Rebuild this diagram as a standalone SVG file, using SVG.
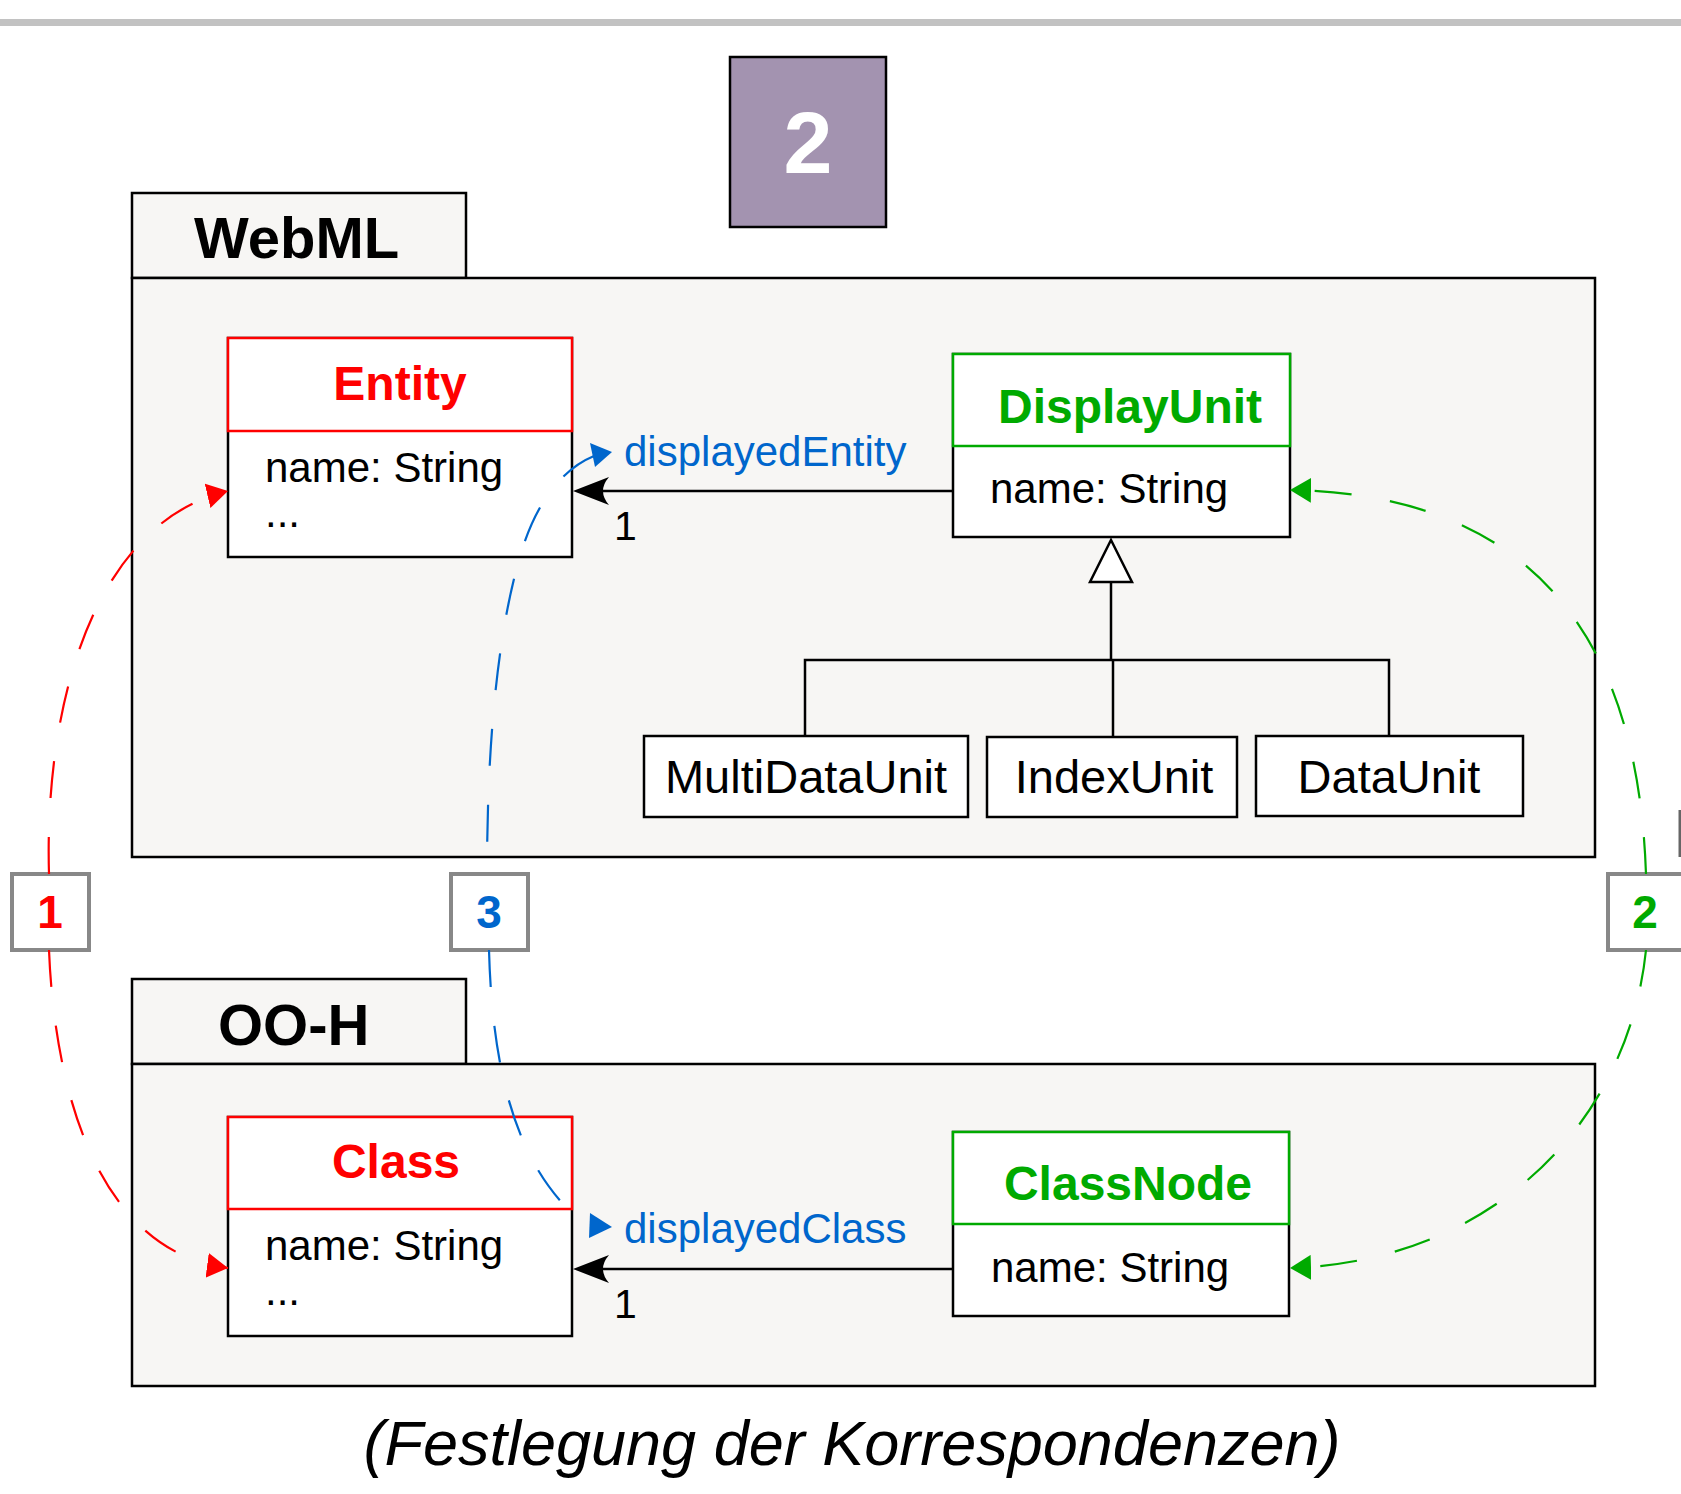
<svg xmlns="http://www.w3.org/2000/svg" width="1681" height="1494" viewBox="0 0 1681 1494">
  <style>
    text { font-family: "Liberation Sans", Arial, sans-serif; }
    .pkg { fill: #f7f6f4; stroke: #000; stroke-width: 2.5; }
    .box { fill: #fff; stroke: #000; stroke-width: 2.5; }
    .hdr-red { fill: #fff; stroke: #ff0000; stroke-width: 2.5; }
    .hdr-green { fill: #fff; stroke: #00aa00; stroke-width: 2.5; }
    .ttl { font-weight: bold; font-size: 58px; fill: #000; }
    .cls-red { font-weight: bold; font-size: 48px; fill: #ff0000; text-anchor: middle; }
    .cls-green { font-weight: bold; font-size: 48px; fill: #00aa00; text-anchor: middle; }
    .attr { font-size: 42px; fill: #000; }
    .unit { font-size: 47px; fill: #000; text-anchor: middle; }
    .role { font-size: 42px; fill: #0066cc; }
    .mult { font-size: 41px; fill: #000; }
    .tag { fill: #fff; stroke: #888; stroke-width: 4; }
    .tagtxt { font-weight: bold; font-size: 46px; text-anchor: middle; }
    .assoc { stroke: #000; stroke-width: 2.5; fill: none; }
    .corr { fill: none; stroke-width: 2.2; stroke-dasharray: 37 39; }
  </style>
  <defs>
    <marker id="mRed" viewBox="0 0 21 25" refX="21" refY="12.5" markerWidth="21" markerHeight="25" markerUnits="userSpaceOnUse" orient="auto">
      <path d="M0,0 L21,12.5 L0,25 Z" fill="#ff0000"/>
    </marker>
    <marker id="mGreen" viewBox="0 0 21 25" refX="21" refY="12.5" markerWidth="21" markerHeight="25" markerUnits="userSpaceOnUse" orient="auto">
      <path d="M0,0 L21,12.5 L0,25 Z" fill="#00aa00"/>
    </marker>
  </defs>

  <!-- top rule -->
  <rect x="0" y="19" width="1681" height="7" fill="#c2c2c2"/>

  <!-- step badge -->
  <g id="step">
    <rect x="730" y="57" width="156" height="170" fill="#a393b0" stroke="#000" stroke-width="2.5"/>
    <text x="808" y="173" font-size="88" font-weight="bold" fill="#fff" text-anchor="middle">2</text>
  </g>

  <!-- WebML package -->
  <g id="pkg-webml">
    <rect class="pkg" x="132" y="193" width="334" height="85"/>
    <rect class="pkg" x="132" y="278" width="1463" height="579"/>
    <text class="ttl" x="194" y="258">WebML</text>
  </g>

  <!-- OO-H package -->
  <g id="pkg-ooh">
    <rect class="pkg" x="132" y="979" width="334" height="85"/>
    <rect class="pkg" x="132" y="1064" width="1463" height="322"/>
    <text class="ttl" x="218" y="1045">OO-H</text>
  </g>

  <g id="entity">
    <rect class="box" x="228" y="338" width="344" height="219"/>
    <rect class="hdr-red" x="228" y="338" width="344" height="93"/>
    <text class="cls-red" x="400" y="400">Entity</text>
    <text class="attr" x="265" y="482">name: String</text>
    <text class="attr" x="265" y="527">...</text>
  </g>

  <g id="displayunit">
    <rect class="box" x="953" y="354" width="337" height="183"/>
    <rect class="hdr-green" x="953" y="354" width="337" height="92"/>
    <text class="cls-green" x="1130" y="423">DisplayUnit</text>
    <text class="attr" x="990" y="503">name: String</text>
  </g>

  <g id="multidataunit">
    <rect class="box" x="644" y="736" width="324" height="81"/>
    <text class="unit" x="806" y="793">MultiDataUnit</text>
  </g>
  <g id="indexunit">
    <rect class="box" x="987" y="737" width="250" height="80"/>
    <text class="unit" x="1114" y="793">IndexUnit</text>
  </g>
  <g id="dataunit">
    <rect class="box" x="1256" y="736" width="267" height="80"/>
    <text class="unit" x="1389" y="793">DataUnit</text>
  </g>

  <g id="class">
    <rect class="box" x="228" y="1117" width="344" height="219"/>
    <rect class="hdr-red" x="228" y="1117" width="344" height="92"/>
    <text class="cls-red" x="396" y="1178">Class</text>
    <text class="attr" x="265" y="1260">name: String</text>
    <text class="attr" x="265" y="1305">...</text>
  </g>

  <g id="classnode">
    <rect class="box" x="953" y="1132" width="336" height="184"/>
    <rect class="hdr-green" x="953" y="1132" width="336" height="92"/>
    <text class="cls-green" x="1128" y="1200">ClassNode</text>
    <text class="attr" x="991" y="1282">name: String</text>
  </g>

  <!-- correspondence tags -->
  <g id="tag1">
    <rect class="tag" x="12" y="874" width="77" height="76"/>
    <text class="tagtxt" x="50" y="928" fill="#ff0000">1</text>
  </g>
  <g id="tag3">
    <rect class="tag" x="451" y="874" width="77" height="76"/>
    <text class="tagtxt" x="489" y="928" fill="#0066cc">3</text>
  </g>
  <g id="tag2">
    <rect class="tag" x="1608" y="874" width="77" height="76"/>
    <text class="tagtxt" x="1645" y="928" fill="#00aa00">2</text>
  </g>
  <line x1="1680" y1="810" x2="1680" y2="857" stroke="#666" stroke-width="3"/>

  <!-- associations, generalization and correspondence links -->
  <g id="connectors">
    <line class="assoc" x1="953" y1="491" x2="600" y2="491"/>
    <path d="M573,491 L609,477 Q597,491 609,505 Z" fill="#000"/>
    <line class="assoc" x1="953" y1="1269" x2="600" y2="1269"/>
    <path d="M573,1269 L609,1255 Q597,1269 609,1283 Z" fill="#000"/>

    <line class="assoc" x1="1111" y1="582" x2="1111" y2="660"/>
    <polyline class="assoc" points="805,736 805,660 1389,660 1389,736"/>
    <line class="assoc" x1="1113" y1="660" x2="1113" y2="736"/>
    <path d="M1111,540 L1132,582 L1090,582 Z" fill="#fff" stroke="#000" stroke-width="2.5"/>

    <!-- correspondence 1 (red) -->
    <path class="corr" stroke="#ff0000" d="M49,874 C44,700 96,522 228,491" marker-end="url(#mRed)"/>
    <path class="corr" stroke="#ff0000" d="M49,950 C55,1100 102,1252 228,1268" marker-end="url(#mRed)"/>
    <!-- correspondence 3 (blue), drawn from the arrowhead outwards -->
    <path class="corr" stroke="#0066cc" d="M594,456 C560,470 536,505 522,550 C500,620 487,730 487,874"/>
    <path d="M590,443 L612,452 L595,467 Z" fill="#0066cc"/>
    <path class="corr" stroke="#0066cc" d="M489,950 C492,1060 512,1155 571,1212"/>
    <path d="M590,1213 L612,1227 L589,1238 Z" fill="#0066cc"/>
    <!-- correspondence 2 (green) -->
    <path class="corr" stroke="#00aa00" d="M1646,874 C1640,700 1580,495 1290,490" marker-end="url(#mGreen)"/>
    <path class="corr" stroke="#00aa00" d="M1646,950 C1628,1125 1490,1262 1290,1268" marker-end="url(#mGreen)"/>
  </g>

  <!-- labels on associations -->
  <text class="role" x="624" y="466">displayedEntity</text>
  <text class="mult" x="614" y="540">1</text>
  <text class="role" x="624" y="1243">displayedClass</text>
  <text class="mult" x="614" y="1318">1</text>

  <text x="852" y="1465" font-size="63" font-style="italic" text-anchor="middle" fill="#000">(Festlegung der Korrespondenzen)</text>
</svg>
